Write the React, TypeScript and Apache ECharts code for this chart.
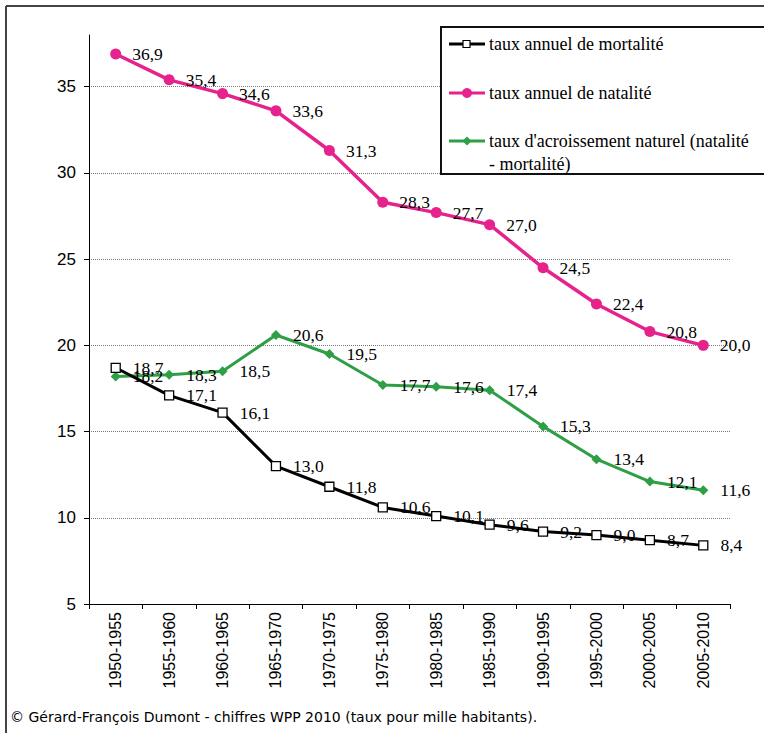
import React, { useEffect, useRef } from "react";
import * as echarts from "echarts";

const categories = [
  "1950-1955", "1955-1960", "1960-1965", "1965-1970", "1970-1975", "1975-1980",
  "1980-1985", "1985-1990", "1990-1995", "1995-2000", "2000-2005", "2005-2010",
];
const mortalite = [18.7, 17.1, 16.1, 13.0, 11.8, 10.6, 10.1, 9.6, 9.2, 9.0, 8.7, 8.4];
const natalite = [36.9, 35.4, 34.6, 33.6, 31.3, 28.3, 27.7, 27.0, 24.5, 22.4, 20.8, 20.0];
const accroissement = [18.2, 18.3, 18.5, 20.6, 19.5, 17.7, 17.6, 17.4, 15.3, 13.4, 12.1, 11.6];
const yTicks = [5, 10, 15, 20, 25, 30, 35];
const seriesNames = [
  "taux annuel de mortalité",
  "taux annuel de natalité",
  "taux d'acroissement naturel (natalité\n- mortalité)",
];
const caption = "© Gérard-François Dumont - chiffres WPP 2010 (taux pour mille habitants).";

const BLACK = "#000000";
const PINK = "#E6238C";
const GREEN = "#2E9F45";
const SERIF = "'Liberation Serif', 'Times New Roman', serif";
const SANS = "'Liberation Sans', Arial, sans-serif";

const fmt = (p: any) => Number(p.value).toFixed(1).replace(".", ",");

export default function App() {
  const ref = useRef<HTMLDivElement>(null);
  useEffect(() => {
    if (!ref.current) return;
    const chart = echarts.init(ref.current, null, { renderer: "svg" });
    const labelBase = {
      show: true,
      position: "right" as const,
      formatter: fmt,
      fontFamily: SERIF,
      fontSize: 17.5,
      color: "#000",
    };
    const legendRows = [44, 93, 141];
    const legendColors = [BLACK, PINK, GREEN];
    const legendEls: any[] = [
      {
        type: "rect",
        shape: { x: 441, y: 27, width: 330, height: 147 },
        style: { fill: "#fff" },
        z: 100,
      },
      {
        type: "polyline",
        shape: { points: [[770, 27], [441, 27], [441, 174], [770, 174]] },
        style: { stroke: "#111", lineWidth: 2, fill: "none" },
        z: 101,
      },
    ];
    legendRows.forEach((y, i) => {
      legendEls.push({
        type: "line",
        shape: { x1: 449, y1: y, x2: 485, y2: y },
        style: { stroke: legendColors[i], lineWidth: 3 },
        z: 101,
      });
      if (i === 0) {
        legendEls.push({
          type: "rect",
          shape: { x: 463, y: y - 3.5, width: 7, height: 7 },
          style: { fill: "#fff", stroke: "#000", lineWidth: 1.2 },
          z: 102,
        });
      } else if (i === 1) {
        legendEls.push({
          type: "circle",
          shape: { cx: 467, cy: y, r: 5 },
          style: { fill: PINK },
          z: 102,
        });
      } else {
        legendEls.push({
          type: "polygon",
          shape: { points: [[467, y - 4.5], [471.5, y], [467, y + 4.5], [462.5, y]] },
          style: { fill: GREEN },
          z: 102,
        });
      }
      legendEls.push({
        type: "text",
        x: 489,
        y: y - 11.5,
        style: {
          text: seriesNames[i],
          font: `18px ${SERIF}`,
          fill: "#000",
          lineHeight: 23,
          verticalAlign: "top",
        },
        z: 102,
      });
    });

    chart.setOption({
      animation: false,
      backgroundColor: "#fff",
      grid: { left: 89, right: 34, top: 35, bottom: 129 },
      xAxis: {
        type: "category",
        data: categories,
        boundaryGap: true,
        axisLine: { lineStyle: { color: "#000", width: 1 } },
        axisTick: { show: true, length: 5, inside: false, lineStyle: { color: "#000" } },
        axisLabel: {
          rotate: 90,
          interval: 0,
          margin: 8,
          fontFamily: SANS,
          fontSize: 16,
          color: "#000",
        },
        splitLine: { show: false },
      },
      yAxis: {
        type: "value",
        min: 5,
        max: 38,
        interval: 5,
        axisLine: { show: true, lineStyle: { color: "#000", width: 1 } },
        axisTick: { show: true, length: 5, lineStyle: { color: "#000" }, customValues: yTicks },
        axisLabel: {
          fontFamily: SANS,
          fontSize: 17,
          color: "#000",
          margin: 13,
          customValues: yTicks,
        },
        splitLine: {
          show: true,
          showMinLine: false,
          lineStyle: { color: "#777", type: [1, 1], width: 1 },
        },
      },
      series: [
        {
          name: seriesNames[0],
          type: "line",
          data: mortalite,
          symbol: "rect",
          symbolSize: 9,
          lineStyle: { color: BLACK, width: 3 },
          itemStyle: { color: "#fff", borderColor: "#000", borderWidth: 1.3 },
          label: { ...labelBase, distance: 12 },
          z: 3,
        },
        {
          name: seriesNames[1],
          type: "line",
          data: natalite,
          symbol: "circle",
          symbolSize: 11,
          lineStyle: { color: PINK, width: 3.5 },
          itemStyle: { color: PINK },
          label: { ...labelBase, distance: 11 },
          z: 2,
        },
        {
          name: seriesNames[2],
          type: "line",
          data: accroissement,
          symbol: "diamond",
          symbolSize: 10,
          lineStyle: { color: GREEN, width: 3 },
          itemStyle: { color: GREEN },
          label: { ...labelBase, distance: 12 },
          z: 2,
        },
      ],
      graphic: [
        {
          type: "line",
          shape: { x1: 6, y1: 6, x2: 764, y2: 6 },
          style: { stroke: "#444", lineWidth: 2 },
          z: 50,
        },
        {
          type: "line",
          shape: { x1: 6, y1: 6, x2: 6, y2: 733 },
          style: { stroke: "#444", lineWidth: 2 },
          z: 50,
        },
        ...legendEls,
        {
          type: "text",
          x: 10,
          y: 717,
          style: {
            text: caption,
            font: "14px 'DejaVu Sans', Verdana, sans-serif",
            fill: "#000",
            verticalAlign: "middle",
          },
          z: 50,
        },
      ],
    });
    return () => chart.dispose();
  }, []);
  return (
    <div
      ref={ref}
      style={{ position: "absolute", left: 0, top: 0, width: 764, height: 733 }}
    />
  );
}
